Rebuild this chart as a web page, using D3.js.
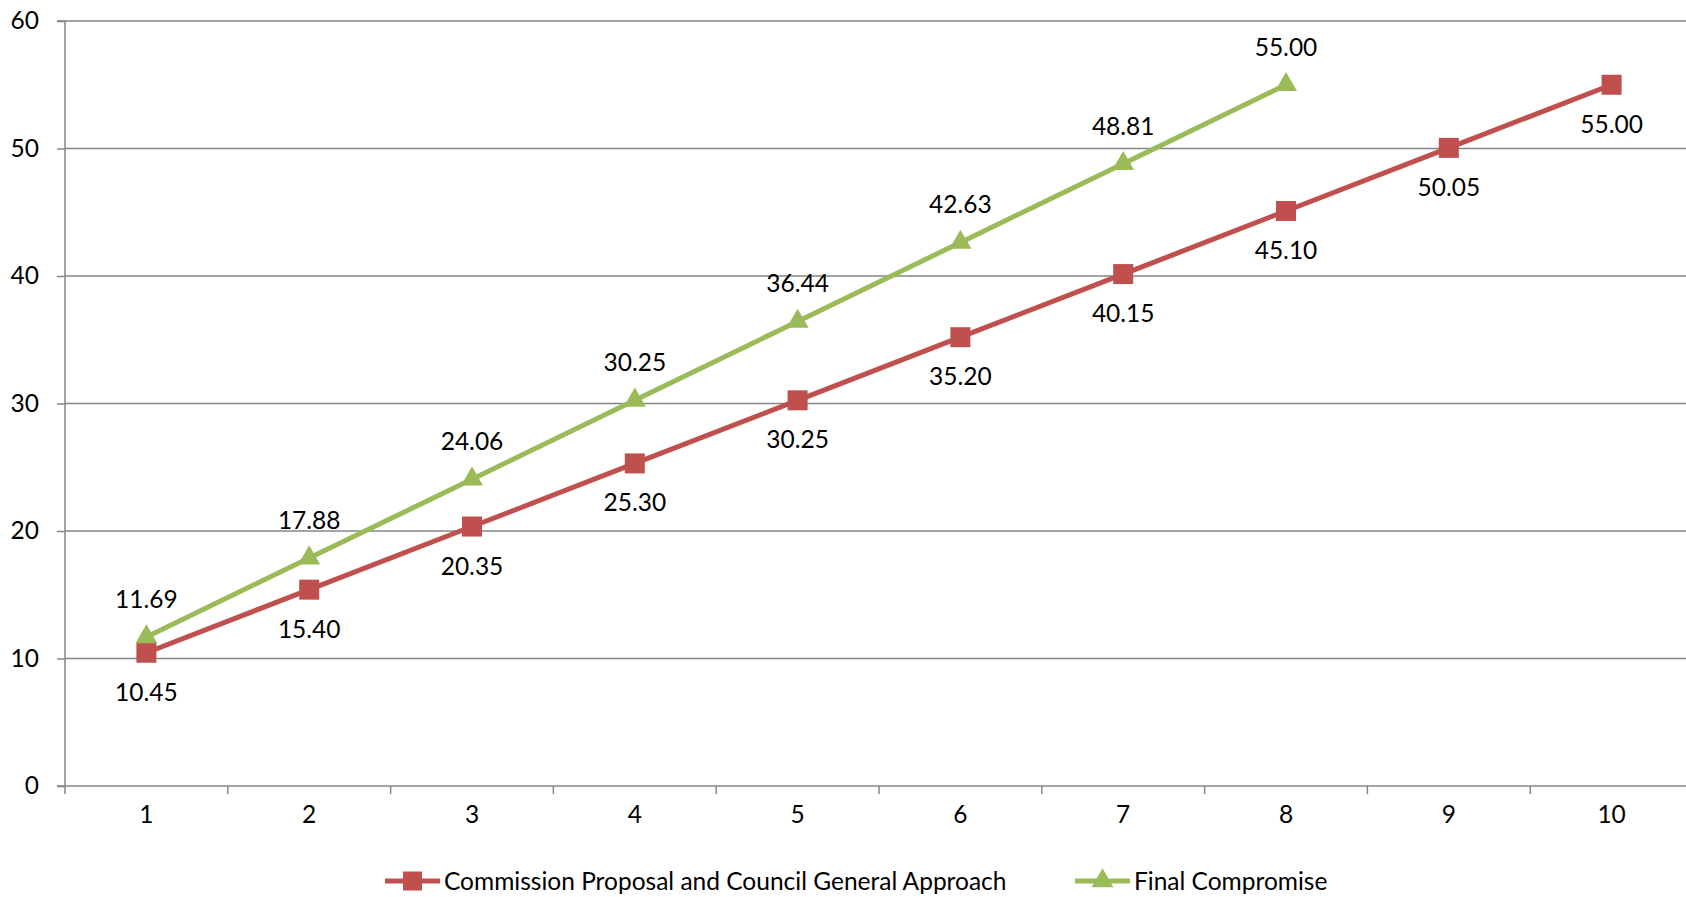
<!DOCTYPE html>
<html>
<head>
<meta charset="utf-8">
<script src="https://cdn.jsdelivr.net/npm/d3@7"></script>
<style>
  html, body { margin: 0; padding: 0; background: #fff; overflow: hidden; }
  svg { display: block; font-family: Lato, "Open Sans", sans-serif; }
</style>
</head>
<body>
<svg id="chart" width="1686" height="897"></svg>
<script>
// Categories along the x axis
const categories = [1, 2, 3, 4, 5, 6, 7, 8, 9, 10];
// Series values
const commissionValues = [10.45, 15.40, 20.35, 25.30, 30.25, 35.20, 40.15, 45.10, 50.05, 55.00];
const compromiseValues = [11.69, 17.88, 24.06, 30.25, 36.44, 42.63, 48.81, 55.00];
// Y tick labels
const yTicks = [0, 10, 20, 30, 40, 50, 60];
const seriesNames = ["Commission Proposal and Council General Approach", "Final Compromise"];

const RED = "#C0504D", GREEN = "#9BBB59", GRID = "#868686";
const FS = 24.5;

const svg = d3.select("#chart");
const plotLeft = 65, plotRight = 1693, plotTop = 21, plotBottom = 786;

const x = d3.scaleBand().domain(categories).range([plotLeft, plotRight]);
const y = d3.scaleLinear().domain([0, 60]).range([plotBottom, plotTop]);

// Horizontal gridlines
svg.append("g").selectAll("line").data(yTicks.filter(d => d > 0)).join("line")
  .attr("x1", plotLeft).attr("x2", plotRight)
  .attr("y1", d => y(d)).attr("y2", d => y(d))
  .attr("stroke", GRID).attr("stroke-width", 1.5);

// Y axis
const yAxis = svg.append("g").attr("transform", `translate(${plotLeft},0)`)
  .call(d3.axisLeft(y).tickValues(yTicks).tickSize(8).tickPadding(18).tickFormat(d3.format("d")));
yAxis.select(".domain").attr("stroke", GRID).attr("stroke-width", 1.5).attr("d", `M-8,${plotTop}H0V${plotBottom}`);
yAxis.selectAll(".tick line").attr("stroke", GRID).attr("stroke-width", 1.5);
yAxis.selectAll(".tick text").attr("font-size", FS).attr("fill", "#000").attr("font-family", "Lato, sans-serif");

// X axis with tick marks on category boundaries
const xAxis = svg.append("g").attr("transform", `translate(0,${plotBottom})`);
xAxis.append("line").attr("x1", plotLeft - 8).attr("x2", plotRight).attr("y1", 0).attr("y2", 0)
  .attr("stroke", GRID).attr("stroke-width", 1.5);
xAxis.selectAll(".bound").data(categories).join("line").attr("class", "bound")
  .attr("x1", d => x(d)).attr("x2", d => x(d)).attr("y1", 0).attr("y2", 8)
  .attr("stroke", GRID).attr("stroke-width", 1.5);
xAxis.selectAll(".lbl").data(categories).join("text").attr("class", "lbl")
  .attr("x", d => x(d) + x.bandwidth() / 2).attr("y", 37)
  .attr("text-anchor", "middle").attr("font-size", FS).attr("fill", "#000")
  .text(d => d);

const cx = i => x(categories[i]) + x.bandwidth() / 2;
const line = d3.line().x((d, i) => cx(i)).y(d => y(d));

// Commission series
svg.append("path").datum(commissionValues).attr("d", line)
  .attr("fill", "none").attr("stroke", RED).attr("stroke-width", 5).attr("stroke-linejoin", "round");
svg.append("g").selectAll("rect").data(commissionValues).join("rect")
  .attr("x", (d, i) => cx(i) - 10).attr("y", d => y(d) - 10)
  .attr("width", 20).attr("height", 20).attr("fill", RED);
svg.append("g").selectAll("text").data(commissionValues).join("text")
  .attr("x", (d, i) => cx(i)).attr("y", d => y(d) + 48)
  .attr("text-anchor", "middle").attr("font-size", FS).attr("fill", "#000")
  .text(d => d.toFixed(2));

// Final compromise series
const tri = d3.symbol().type(d3.symbolTriangle).size(210);
svg.append("path").datum(compromiseValues).attr("d", line)
  .attr("fill", "none").attr("stroke", GREEN).attr("stroke-width", 5).attr("stroke-linejoin", "round");
svg.append("g").selectAll("path").data(compromiseValues).join("path")
  .attr("d", tri).attr("transform", (d, i) => `translate(${cx(i)},${y(d)})`).attr("fill", GREEN);
svg.append("g").selectAll("text").data(compromiseValues).join("text")
  .attr("x", (d, i) => cx(i)).attr("y", d => y(d) - 29)
  .attr("text-anchor", "middle").attr("font-size", FS).attr("fill", "#000")
  .text(d => d.toFixed(2));

// Legend
const legend = svg.append("g");
const ly = 881;
const items = [
  { name: seriesNames[0], color: RED, x0: 385, marker: "square", tx: 444 },
  { name: seriesNames[1], color: GREEN, x0: 1075, marker: "triangle", tx: 1134 }
];
items.forEach(it => {
  legend.append("line").attr("x1", it.x0).attr("x2", it.x0 + 55).attr("y1", ly).attr("y2", ly)
    .attr("stroke", it.color).attr("stroke-width", 5);
  if (it.marker === "square") {
    legend.append("rect").attr("x", it.x0 + 27.5 - 9.5).attr("y", ly - 9.5).attr("width", 19).attr("height", 19).attr("fill", it.color);
  } else {
    legend.append("path").attr("d", tri).attr("transform", `translate(${it.x0 + 27.5},${ly})`).attr("fill", it.color);
  }
  legend.append("text").attr("x", it.tx).attr("y", ly + 8.5).attr("font-size", FS).attr("fill", "#000").text(it.name);
});
</script>
</body>
</html>
